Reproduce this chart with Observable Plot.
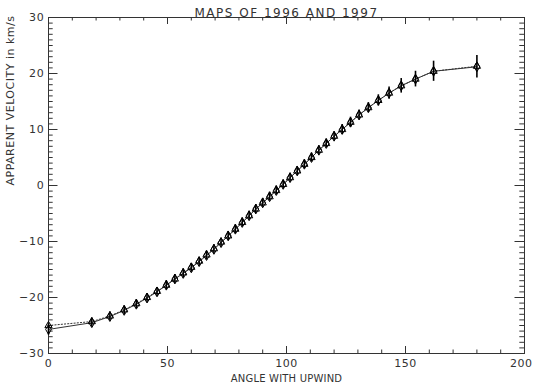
<!DOCTYPE html>
<html>
<head>
<meta charset="utf-8">
<script src="https://cdn.jsdelivr.net/npm/d3@7"></script>
<script src="https://cdn.jsdelivr.net/npm/@observablehq/plot@0.6"></script>
<style>
  html, body { margin: 0; padding: 0; background: #fff; }
  g[aria-label="x-axis tick label"] text { letter-spacing: 0.5px; }
  g[aria-label="y-axis tick label"] text { letter-spacing: 0.8px; }
</style>
</head>
<body>
<div id="chart"></div>
<script>
const title = "MAPS OF 1996 AND 1997";
const xLabel = "ANGLE WITH UPWIND";
const yLabel = "APPARENT VELOCITY in km/s";

const angles = [0, 18.2, 25.8, 31.8, 36.9, 41.4, 45.6, 49.5, 53.1, 56.6, 60, 63.3, 66.4, 69.5, 72.5, 75.5, 78.5, 81.4, 84.3, 87.1, 90, 92.9, 95.7, 98.6, 101.5, 104.5, 107.5, 110.5, 113.6, 116.7, 120, 123.4, 126.9, 130.5, 134.4, 138.6, 143.1, 148.2, 154.2, 161.8, 180];
const velSolid = [-25.7, -24.5, -23.4, -22.3, -21.2, -20.1, -19.0, -17.8, -16.7, -15.7, -14.7, -13.6, -12.5, -11.4, -10.2, -9.0, -7.8, -6.6, -5.4, -4.2, -3.1, -2.0, -0.9, 0.2, 1.4, 2.6, 3.8, 5.0, 6.3, 7.5, 8.8, 10.0, 11.3, 12.6, 13.9, 15.2, 16.5, 17.8, 19.0, 20.4, 21.2];
const velDotted = [-25.0, -24.3, -23.3, -22.2, -21.1, -20.0, -18.9, -17.8, -16.7, -15.6, -14.6, -13.5, -12.4, -11.3, -10.1, -9.0, -7.8, -6.6, -5.4, -4.2, -3.1, -2.0, -0.9, 0.2, 1.4, 2.6, 3.8, 5.0, 6.3, 7.5, 8.8, 10.0, 11.3, 12.6, 13.9, 15.2, 16.5, 17.8, 19.0, 20.4, 21.3];
const errors = [1.0, 0.8, 0.8, 0.8, 0.8, 0.8, 0.8, 0.8, 0.8, 0.8, 0.8, 0.8, 0.8, 0.8, 0.8, 0.8, 0.8, 0.8, 0.8, 0.8, 0.8, 0.8, 0.8, 0.8, 0.8, 0.8, 0.8, 0.8, 0.8, 0.8, 0.8, 0.9, 0.9, 0.9, 0.9, 1.0, 1.1, 1.3, 1.4, 1.8, 2.0];

const xMajor = [0, 50, 100, 150, 200];
const xMinor = [10, 20, 30, 40, 60, 70, 80, 90, 110, 120, 130, 140, 160, 170, 180, 190];
const yMajor = [-30, -20, -10, 0, 10, 20, 30];
const yMinor = d3.range(-29, 30).filter(v => v % 10 !== 0);

const xDomain = [0, 200];
const yDomain = [-30, 30];

const solid = angles.map((a, i) => ({a, v: velSolid[i], e: errors[i]}));
const dotted = angles.map((a, i) => ({a, v: velDotted[i]}));

const W = 533, H = 387, mL = 48, mR = 9, mT = 17, mB = 34;
const pxX = (xDomain[1] - xDomain[0]) / (W - mL - mR);
const pxY = (yDomain[1] - yDomain[0]) / (H - mT - mB);
const xTickMaj = 7 * pxY, xTickMin = 3.5 * pxY;
const yTickMaj = 9.5 * pxX, yTickMin = 4.7 * pxX;
const ink = "#333";

const chart = Plot.plot({
  width: W, height: H,
  marginLeft: mL, marginRight: mR, marginTop: mT, marginBottom: mB,
  x: {domain: xDomain},
  y: {domain: yDomain},
  style: {fontFamily: "'DejaVu Sans', sans-serif", fontSize: "11px", color: ink, background: "#fff"},
  marks: [
    Plot.ruleX(xMajor, {x: d => d, y1: yDomain[0], y2: yDomain[0] + xTickMaj, stroke: ink}),
    Plot.ruleX(xMinor, {x: d => d, y1: yDomain[0], y2: yDomain[0] + xTickMin, stroke: ink}),
    Plot.ruleX(xMajor, {x: d => d, y1: yDomain[1], y2: yDomain[1] - xTickMaj, stroke: ink}),
    Plot.ruleX(xMinor, {x: d => d, y1: yDomain[1], y2: yDomain[1] - xTickMin, stroke: ink}),
    Plot.ruleY(yMajor, {y: d => d, x1: xDomain[0], x2: xDomain[0] + yTickMaj, stroke: ink}),
    Plot.ruleY(yMinor, {y: d => d, x1: xDomain[0], x2: xDomain[0] + yTickMin, stroke: ink}),
    Plot.ruleY(yMajor, {y: d => d, x1: xDomain[1], x2: xDomain[1] - yTickMaj, stroke: ink}),
    Plot.ruleY(yMinor, {y: d => d, x1: xDomain[1], x2: xDomain[1] - yTickMin, stroke: ink}),
    Plot.frame({stroke: ink}),
    Plot.axisX({ticks: xMajor, tickSize: 0, tickPadding: 6, label: null}),
    Plot.axisY({ticks: yMajor, tickSize: 0, tickPadding: 4, label: null}),
    Plot.line(dotted, {x: "a", y: "v", stroke: ink, strokeWidth: 1, strokeDasharray: "1.2,2"}),
    Plot.line(solid, {x: "a", y: "v", stroke: ink, strokeWidth: 1}),
    Plot.ruleX(solid, {x: "a", y1: d => d.v - d.e, y2: d => d.v + d.e, stroke: "#000", strokeWidth: 1.6}),
    Plot.dot(solid, {x: "a", y: "v", symbol: "diamond", r: 3, stroke: "#000", strokeWidth: 1, fill: "none"}),
    Plot.dot(dotted, {x: "a", y: "v", symbol: "triangle", r: 2.7, stroke: "#000", strokeWidth: 1, fill: "none"}),
    Plot.text([title], {frameAnchor: "top", dy: -9, fontSize: 12, fill: ink}),
    Plot.text([xLabel], {frameAnchor: "bottom", dy: 28, fontSize: 10, fill: ink}),
    Plot.text([yLabel], {frameAnchor: "left", dx: -38, rotate: -90, fontSize: 11, fill: ink})
  ]
});
// letter spacing to mimic the wide vector font
d3.select(chart).selectAll("text").each(function() {
  const t = this.textContent;
  if (t === title) this.style.letterSpacing = "1.5px";
  else if (t === yLabel) this.style.letterSpacing = "0.5px";
  else if (t === xLabel) this.style.letterSpacing = "0.2px";
});
// keep the last x tick label inside the picture
d3.select(chart).selectAll('g[aria-label="x-axis tick label"] text')
  .filter(function() { return this.textContent === String(xMajor[xMajor.length - 1]); })
  .attr("text-anchor", "end").attr("dx", 8);
document.getElementById("chart").appendChild(chart);
</script>
</body>
</html>
